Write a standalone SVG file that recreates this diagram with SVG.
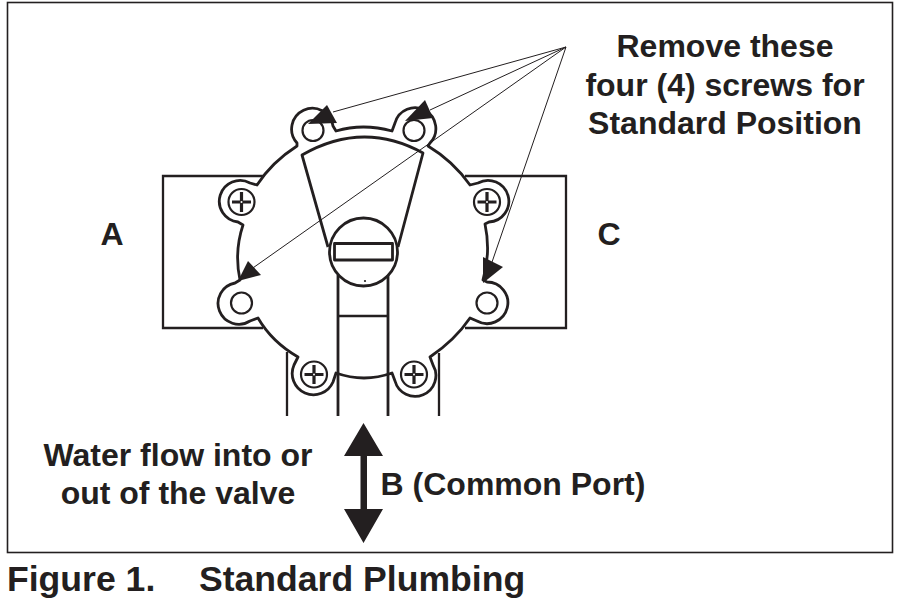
<svg xmlns="http://www.w3.org/2000/svg" width="898" height="607" viewBox="0 0 898 607">
<style>
.l{fill:none;stroke:#231f20;stroke-width:2.800;stroke-linejoin:round}
.h{fill:none;stroke:#231f20;stroke-width:2.200}
.x{fill:none;stroke:#231f20;stroke-width:3.200}
.d{fill:#fff}
.t{fill:none;stroke:#231f20;stroke-width:1}
.p{fill:none;stroke:#231f20;stroke-width:2.300}
.a{fill:#231f20;stroke:none}
text{font-family:"Liberation Sans",Arial,sans-serif;font-weight:bold;fill:#231f20;text-anchor:middle}
.b{font-size:32px}
.f{font-size:35.600px;text-anchor:start}
</style>
<rect width="898" height="607" fill="#fff"/>
<rect id="frame" x="7.500" y="2.500" width="885" height="550" fill="none" stroke="#231f20" stroke-width="1.600"/>
<g id="ports">
<path class="p" d="M263 176H163V328H263"/>
<path class="p" d="M465 176H566V328H465"/>
<path class="p" d="M287 352V416M439 353V416"/>
</g>
<g id="valve-body">
<path class="l" d="M297 146L297 143A20.800 20.800 0 1 1 333 126L336 131Q363 123 392 131L395 123A20.800 20.800 0 1 1 430 143L428 146Q453 161 470 185L478 183A20.800 20.800 0 1 1 489 222L485 224Q491 252 483 280L487 282A20.800 20.800 0 1 1 477 321L470 318Q455 340 430 357L433 365A20.800 20.800 0 1 1 395 381L392 373Q364 383 336 373L333 382A20.800 20.800 0 1 1 294 365L298 357Q272 342 258 318L250 321A20.800 20.800 0 1 1 235 283L240 280Q234 252 243 225L238 222A20.800 20.800 0 1 1 250 183L257 185Q272 162 297 146Z"/>
</g>
<g id="selector">
<path class="l" d="M328 247L302 155Q363 120 423 153L398 247"/>
<path class="l" d="M338 275V416M388 275V416"/>
<path class="p" d="M338 316H388"/>
<circle class="l" cx="363.500" cy="252" r="34"/>
<rect class="l" x="334.500" y="243.500" width="58" height="16.500"/>
<circle cx="365" cy="281" r="1.100" fill="#231f20"/>
</g>
<g id="holes">
<circle class="h" cx="313" cy="130.500" r="10.500"/>
<circle class="h" cx="414" cy="130.500" r="10.500"/>
<circle class="h" cx="241.500" cy="303" r="10.500"/>
<circle class="h" cx="487" cy="303" r="10.500"/>
</g>
<g id="screws">
<g id="screw-1"><circle class="h" cx="241.500" cy="202" r="13"/><path class="x" d="M232 202H251M241.500 192V212"/><circle class="d" cx="241.500" cy="202" r="1"/></g>
<g id="screw-2"><circle class="h" cx="487" cy="202" r="13"/><path class="x" d="M477.500 202H496.500M487 192V212"/><circle class="d" cx="487" cy="202" r="1"/></g>
<g id="screw-3"><circle class="h" cx="314" cy="374.500" r="13"/><path class="x" d="M304.500 374.500H323.500M314 365V384"/><circle class="d" cx="314" cy="374.500" r="1"/></g>
<g id="screw-4"><circle class="h" cx="414" cy="374.500" r="13"/><path class="x" d="M404.500 374.500H423.500M414 365V384"/><circle class="d" cx="414" cy="374.500" r="1"/></g>
</g>
<g id="connectors">
<path class="t" d="M566 47L333 112M566 47L430 110M566 47L250 270M566 47L491 265"/>
<path class="a" d="M327 105L337 123L308 124Z"/>
<path class="a" d="M425 100L433 118L405 121Z"/>
<path class="a" d="M248 261L261 275L238 281Z"/>
<path class="a" d="M483 257L503 267L483 283Z"/>
<path class="a" d="M363.500 423L383 456H367V509H383L363.500 543L344 509H360.500V456H344Z"/>
</g>
<g id="labels">
<text class="b" x="725" y="57">Remove these</text>
<text class="b" x="725" y="96">four (4) screws for</text>
<text class="b" x="725" y="134">Standard Position</text>
<text class="b" x="112" y="245">A</text>
<text class="b" x="609" y="245">C</text>
<text class="b" x="178" y="466">Water flow into or</text>
<text class="b" x="178" y="504">out of the valve</text>
<text class="b" x="513" y="495">B (Common Port)</text>
<text class="f" x="7" y="591">Figure 1.</text>
<text class="f" x="199" y="591">Standard Plumbing</text>
</g>
</svg>
